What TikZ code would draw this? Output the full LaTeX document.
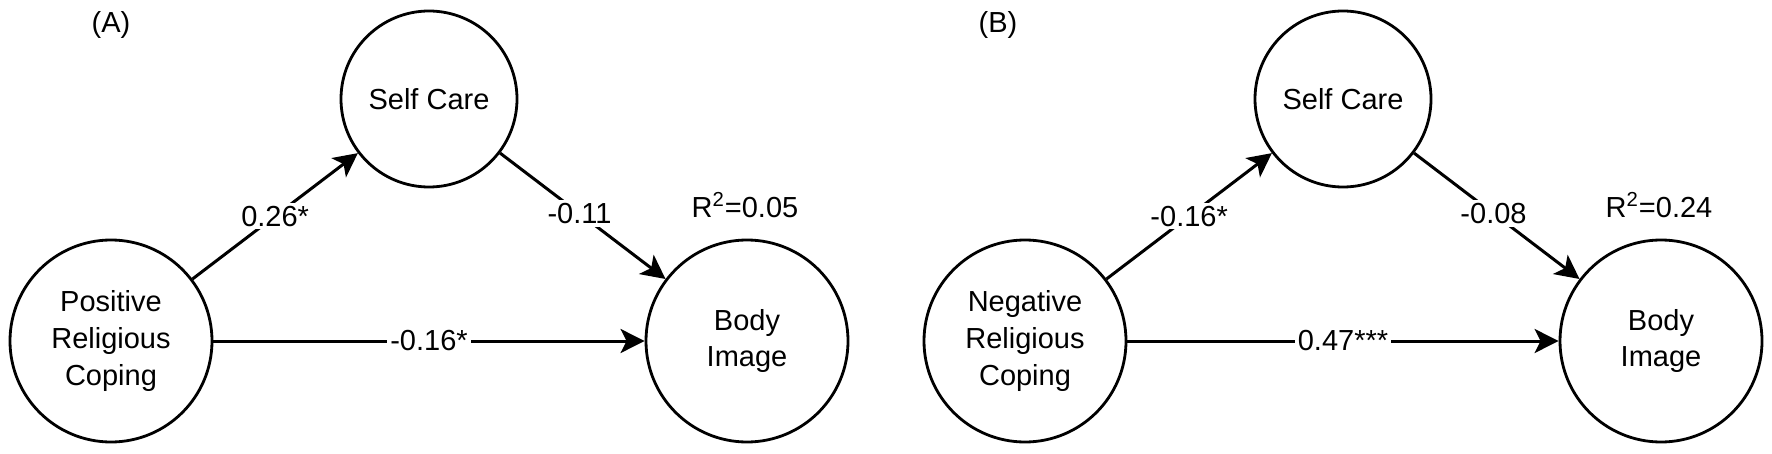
\documentclass[tikz,border=0pt]{standalone}
\usepackage{fontspec}
\setmainfont{Liberation Sans}
\usetikzlibrary{arrows.meta}
\begin{document}
\begin{tikzpicture}[x=0.5pt,y=-0.5pt,
  var/.style={circle, draw, line width=1.4pt, align=center, inner sep=0pt, font=\fontsize{14.5}{18.3}\selectfont},
  big/.style={var, minimum size=101pt},
  small/.style={var, minimum size=88pt},
  link/.style={line width=1.5pt, -{Stealth[length=12pt,width=12pt,inset=3pt]}},
  coef/.style={fill=white, inner sep=1.5pt, font=\fontsize{14.5}{17}\selectfont},
  txt/.style={font=\fontsize{14.5}{17}\selectfont, inner sep=0pt}]
\fill[white] (0,0) rectangle (1772,454);
\useasboundingbox (0,0) rectangle (1772,454);
% Panel A
\node[txt] (la) at (111,25) {(A)};
\node[big] (prcA) at (111,341) {Positive\\Religious\\Coping};
\node[small] (scA) at (429,99) {Self Care};
\node[big] (biA) at (747,341) {Body\\Image};
\node[txt] (r2A) at (745,205) {R\textsuperscript{2}=0.05};
\draw[link] (prcA) -- node[coef]{0.26*} (scA);
\draw[link] (scA) -- node[coef, pos=0.48]{-0.11} (biA);
\draw[link] (prcA) -- node[coef]{-0.16*} (biA);
% Panel B
\node[txt] (lb) at (998,25) {(B)};
\node[big] (prcB) at (1025,341) {Negative\\Religious\\Coping};
\node[small] (scB) at (1343,99) {Self Care};
\node[big] (biB) at (1661,341) {Body\\Image};
\node[txt] (r2B) at (1659,205) {R\textsuperscript{2}=0.24};
\draw[link] (prcB) -- node[coef]{-0.16*} (scB);
\draw[link] (scB) -- node[coef, pos=0.48]{-0.08} (biB);
\draw[link] (prcB) -- node[coef]{0.47***} (biB);
\end{tikzpicture}
\end{document}
